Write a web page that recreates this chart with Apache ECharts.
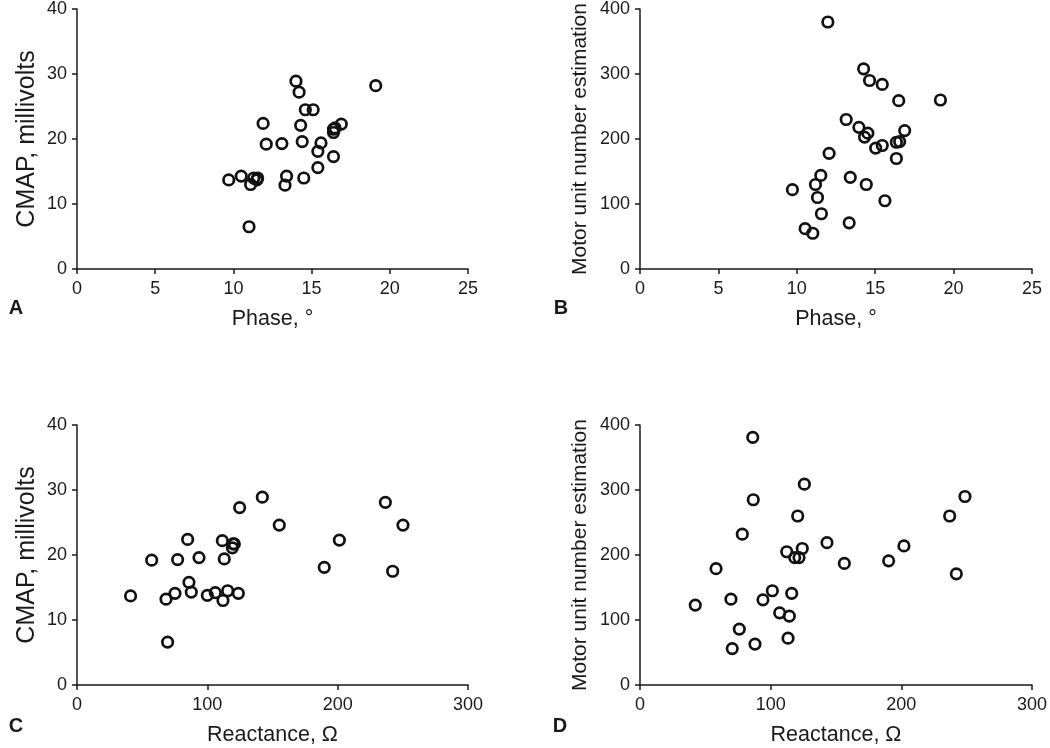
<!DOCTYPE html>
<html>
<head>
<meta charset="utf-8">
<script src="https://cdn.jsdelivr.net/npm/echarts@6/dist/echarts.min.js"></script>
<style>html,body{margin:0;padding:0;background:#fff;}#c{width:1050px;height:748px;}</style>
</head>
<body>
<div id="c"></div>
<script>
// Panel A: Phase (deg) vs CMAP (mV)
const phaseA = [14.0, 14.2, 19.1, 14.6, 15.1, 11.9, 14.3, 16.4, 16.5, 16.9, 16.4, 12.1, 13.1, 14.4, 15.6, 15.4, 16.4, 15.4, 9.7, 10.5, 11.3, 11.1, 11.55, 11.5, 13.4, 13.3, 14.5, 11.0];
const cmapA  = [28.9, 27.2, 28.2, 24.5, 24.5, 22.4, 22.1, 21.5, 21.7, 22.3, 21.0, 19.2, 19.3, 19.6, 19.4, 18.1, 17.3, 15.6, 13.7, 14.3, 14.0, 13.0, 14.0, 13.7, 14.3, 12.9, 14.0, 6.5];
// Panel B: Phase (deg) vs MUNE
const phaseB = [11.98, 14.26, 14.64, 15.45, 16.5, 19.16, 13.15, 13.96, 14.53, 14.32, 16.88, 15.45, 15.03, 16.35, 16.56, 16.35, 12.06, 11.53, 11.19, 11.32, 9.72, 13.41, 14.43, 15.62, 11.57, 13.34, 10.53, 11.02];
const muneB  = [380, 308, 290, 284, 259, 260, 230, 218, 209, 203, 213, 190, 186, 195, 196, 170, 178, 144, 130, 110, 122, 141, 130, 105, 85, 71, 62, 55];
// Panel C: Reactance (ohm) vs CMAP (mV)
const reactC = [142.2, 124.8, 236.6, 250.1, 155.2, 84.9, 111.5, 119.7, 120.7, 119.2, 201.3, 57.3, 77.2, 93.6, 113.0, 189.7, 242.2, 85.9, 41.1, 68.3, 75.2, 87.7, 100.0, 106.1, 115.6, 112.0, 123.8, 69.5];
const cmapC  = [28.9, 27.3, 28.1, 24.6, 24.6, 22.4, 22.2, 21.7, 21.7, 21.1, 22.3, 19.2, 19.3, 19.6, 19.4, 18.1, 17.5, 15.8, 13.7, 13.2, 14.1, 14.3, 13.8, 14.2, 14.5, 13.0, 14.1, 6.6];
// Panel D: Reactance (ohm) vs MUNE
const reactD = [86.3, 125.8, 86.7, 120.7, 237.0, 78.3, 143.1, 202.0, 124.2, 112.3, 118.4, 121.7, 156.4, 190.3, 242.1, 58.2, 42.3, 69.6, 94.1, 101.3, 116.1, 106.9, 114.3, 76.0, 113.3, 88.0, 70.6, 248.7];
const muneD  = [381, 309, 285, 260, 260, 232, 219, 214, 210, 205, 196, 196, 187, 191, 171, 179, 123, 132, 131, 145, 141, 111, 106, 86, 72, 63, 56, 290];

const xTicksPhase = [0, 5, 10, 15, 20, 25];
const xTicksReact = [0, 100, 200, 300];
const yTicksCmap = [0, 10, 20, 30, 40];
const yTicksMune = [0, 100, 200, 300, 400];

const panelLetters = ['A', 'B', 'C', 'D'];
const xNames = ['Phase, \u00B0', 'Phase, \u00B0', 'Reactance, \u03A9', 'Reactance, \u03A9'];
const yNames = ['CMAP, millivolts', 'Motor unit number estimation', 'CMAP, millivolts', 'Motor unit number estimation'];

const FONT = 'Liberation Sans, Arial, sans-serif';
const INK = '#1a1a1a';

function pair(xs, ys) { return xs.map((x, i) => [x, ys[i]]); }

const grids = [
  {left: 77, right: 582, top: 8, bottom: 479},
  {left: 640, right: 18, top: 8, bottom: 479},
  {left: 77, right: 582, top: 425, bottom: 63},
  {left: 640, right: 18, top: 425, bottom: 63}
];

function xAxis(i, ticks) {
  return {
    type: 'value', gridIndex: i,
    min: ticks[0], max: ticks[ticks.length - 1], interval: ticks[1] - ticks[0],
    name: xNames[i], nameLocation: 'middle', nameGap: 39,
    nameTextStyle: {fontFamily: FONT, fontSize: 21.5, color: INK},
    axisLine: {show: true, onZero: false, lineStyle: {color: INK, width: 1.5}},
    axisTick: {show: true, length: 5, inside: false, lineStyle: {color: INK, width: 1.5}},
    axisLabel: {fontFamily: FONT, fontSize: 18, color: INK, margin: 11},
    splitLine: {show: false}
  };
}
function yAxis(i, ticks, gap, fs) {
  return {
    type: 'value', gridIndex: i,
    min: ticks[0], max: ticks[ticks.length - 1], interval: ticks[1] - ticks[0],
    name: yNames[i], nameLocation: 'middle', nameGap: gap, nameRotate: 90,
    nameTextStyle: {fontFamily: FONT, fontSize: fs, color: INK},
    axisLine: {show: true, onZero: false, lineStyle: {color: INK, width: 1.5}},
    axisTick: {show: true, length: 5, inside: false, lineStyle: {color: INK, width: 1.5}},
    axisLabel: {fontFamily: FONT, fontSize: 18, color: INK, margin: 10},
    splitLine: {show: false}
  };
}
function scatter(i, data) {
  return {
    type: 'scatter', xAxisIndex: i, yAxisIndex: i, data: data,
    symbol: 'circle', symbolSize: 10.5,
    itemStyle: {color: 'rgba(255,255,255,0)', borderColor: '#111', borderWidth: 2.7, opacity: 1},
    emphasis: {disabled: true}, animation: false
  };
}

const letterPos = [[16, 308], [561, 308], [16, 726], [560, 726]];

const chart = echarts.init(document.getElementById('c'), null, {renderer: 'canvas'});
chart.setOption({
  backgroundColor: '#fff',
  animation: false,
  grid: grids,
  xAxis: [xAxis(0, xTicksPhase), xAxis(1, xTicksPhase), xAxis(2, xTicksReact), xAxis(3, xTicksReact)],
  yAxis: [yAxis(0, yTicksCmap, 37, 25), yAxis(1, yTicksMune, 49, 21), yAxis(2, yTicksCmap, 37, 25), yAxis(3, yTicksMune, 49, 21)],
  series: [
    scatter(0, pair(phaseA, cmapA)),
    scatter(1, pair(phaseB, muneB)),
    scatter(2, pair(reactC, cmapC)),
    scatter(3, pair(reactD, muneD))
  ],
  graphic: panelLetters.map((t, i) => ({
    type: 'text', x: letterPos[i][0], y: letterPos[i][1],
    style: {text: t, font: 'bold 20px ' + FONT, fill: INK, textAlign: 'center', textVerticalAlign: 'middle'}
  }))
});
</script>
</body>
</html>
